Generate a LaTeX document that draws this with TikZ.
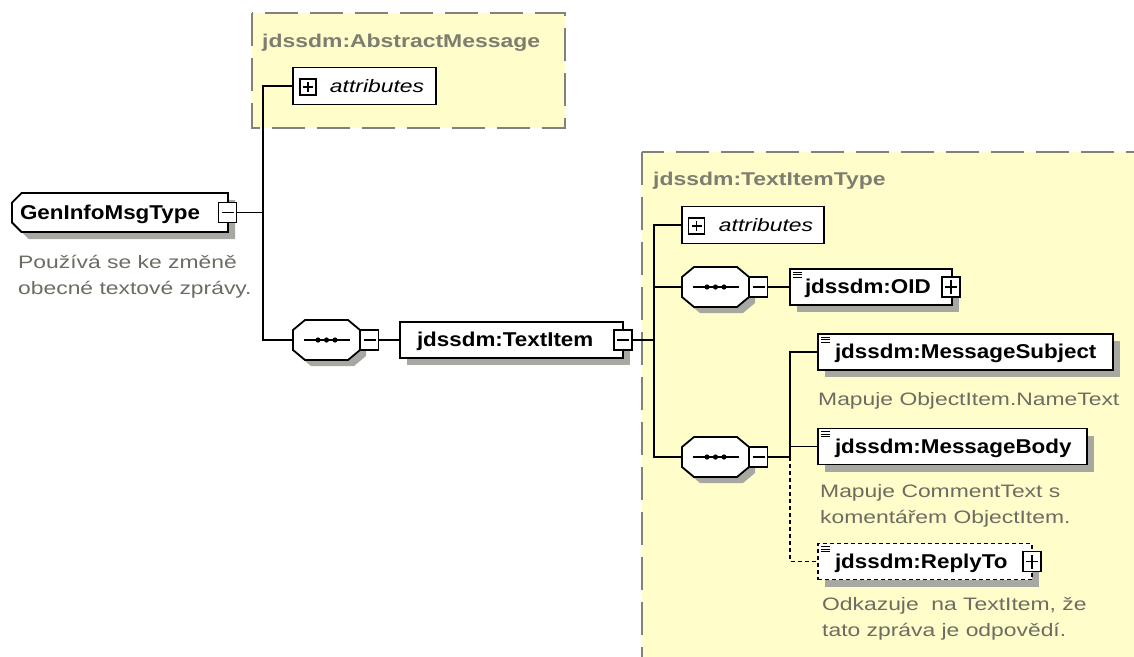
\documentclass[tikz,border=0pt]{standalone}
\usepackage{fontspec}
\setmainfont{Liberation Sans}
\newfontfamily\lblfam[FakeStretch=1.12]{Liberation Sans}
\newfontfamily\descfam[FakeStretch=1.27]{Liberation Sans}
\newfontfamily\titlefam[FakeStretch=1.24]{Liberation Sans}
\usetikzlibrary{shapes.misc,shadows}

\definecolor{paleyellow}{RGB}{255,253,202}
\definecolor{frameGray}{RGB}{130,130,125}
\definecolor{titleGray}{RGB}{125,125,112}
\definecolor{descGray}{RGB}{108,108,98}
\definecolor{shadowGray}{RGB}{168,168,162}

% two annotation lines, baseline of the node = baseline of the first line
\newcommand\twolines[2]{\vtop{\hbox{#1}\hbox{#2}}}

\tikzset{
  container/.style={fill=paleyellow, draw=frameGray, line width=2pt, dash pattern=on 33pt off 12pt},
  typetitle/.style={font=\titlefam\fontsize{18.5}{22}\selectfont\bfseries, text=titleGray,
    anchor=base west, inner sep=0pt},
  desc/.style={font=\descfam\fontsize{18}{26}\selectfont, text=descGray, anchor=base west, inner sep=0pt},
  elem/.style={draw=black, line width=1.8pt, fill=white,
    drop shadow={shadow xshift=7pt, shadow yshift=-7pt, fill=shadowGray, opacity=1},
    minimum height=36pt, inner ysep=0pt, inner xsep=#1, align=left,
    text height=13.5pt, text depth=0pt,
    font=\lblfam\fontsize{20}{23}\selectfont\bfseries},
  elem/.default=17pt,
  optional/.style={dash pattern=on 4pt off 3pt},
  attrbox/.style={draw=black, line width=1.8pt, fill=white, minimum height=37pt,
    inner xsep=12pt, inner ysep=0pt, align=right, text height=13pt, text depth=0pt,
    font=\descfam\fontsize{18}{22}\selectfont\itshape},
  pmbox/.style={draw=black, line width=1.5pt, fill=white, minimum width=18pt,
    minimum height=20pt, inner sep=0pt},
  minusbox/.style={pmbox, path picture={
    \draw[line width=1.6pt] ([xshift=3pt]path picture bounding box.west) --
      ([xshift=-3pt]path picture bounding box.east);}},
  plusbox/.style={pmbox, path picture={
    \draw[line width=1.6pt] ([xshift=3pt]path picture bounding box.west) --
      ([xshift=-3pt]path picture bounding box.east);
    \draw[line width=1.6pt] ([yshift=3pt]path picture bounding box.south) --
      ([yshift=-3pt]path picture bounding box.north);}},
  smallbox/.style={minimum width=16pt, minimum height=16pt},
  seqanchor/.style={minimum width=67pt, minimum height=40pt, inner sep=0pt, draw=none},
  seqoutline/.style={draw=black, line width=1.8pt, fill=white},
  conn/.style={line width=1.8pt, draw=black},
}

% sequence compositor: octagon with shadow, dotted bar and collapse box
\newcommand\seqgroup[3]{%
  \begin{scope}[shift={(#2,#3)}]
    \fill[shadowGray] (-15.5,-14) -- (27.5,-14) -- (39.5,-4) -- (39.5,16) -- (27.5,26)
      -- (-15.5,26) -- (-27.5,16) -- (-27.5,-4) -- cycle;
    \draw[seqoutline] (-21.5,-20) -- (21.5,-20) -- (33.5,-10) -- (33.5,10) -- (21.5,20)
      -- (-21.5,20) -- (-33.5,10) -- (-33.5,-10) -- cycle;
    \draw[line width=1.5pt] (-23,0) -- (23,0);
    \foreach \d in {-8.5,0,8.5} \fill (\d,0) circle (2.6pt);
    \node[seqanchor] (#1) at (0,0) {};
    \node[minusbox] (#1m) at (43,0) {};
  \end{scope}}

% element marker: three short bars in the upper left corner
\newcommand\elemicon[1]{%
  \foreach \dy in {4,6.5,9}
    \draw[line width=1pt] ([xshift=4pt,yshift=-\dy pt]#1.north west) -- ++(9pt,0pt);}

\begin{document}
\begin{tikzpicture}[x=1pt, y=-1pt]
  \useasboundingbox (0,0) rectangle (1134,656);
  \clip (0,0) rectangle (1134,656);
  \fill[white] (0,0) rectangle (1134,656);

  % base type containers
  \draw[container] (252,13) rectangle (565,128);
  \draw[container] (642,152) rectangle (1160,680);

  % root complex type
  \node[elem=2pt, text width=200pt, shape=chamfered rectangle,
        chamfered rectangle corners={north west,south west},
        chamfered rectangle xsep=6pt, minimum height=39pt] (gen) at (120,212.5) {GenInfoMsgType};
  \node[minusbox] (genm) at (227.5,212.5) {};
  \node[desc] (gendesc) at (18,268) {\twolines{Používá se ke změně}{obecné textové zprávy.}};

  % jdssdm:AbstractMessage
  \node[typetitle] (abstitle) at (262,47) {jdssdm:AbstractMessage};
  \node[attrbox, text width=119pt] (attr1) at (364.5,86) {attributes};
  \node[plusbox, smallbox] (attr1p) at (308,87) {};

  % sequence holding the text item
  \seqgroup{seqa}{326.5}{340}
  \node[elem, text width=189pt] (item) at (511.5,340) {jdssdm:TextItem};
  \node[minusbox] (itemm) at (623,340) {};

  % jdssdm:TextItemType
  \node[typetitle] (itemtitle) at (653,185) {jdssdm:TextItemType};
  \node[attrbox, inner xsep=11pt, text width=120pt] (attr2) at (753,225) {attributes};
  \node[plusbox, smallbox] (attr2p) at (696.5,226) {};

  \seqgroup{seqb}{715.5}{287}
  \node[elem=15pt, text width=132pt] (oid) at (871,287) {jdssdm:OID};
  \elemicon{oid}
  \node[plusbox] (oidp) at (951,287) {};

  \seqgroup{seqc}{715.5}{457}
  \node[elem, text width=261pt] (subj) at (965.5,352) {jdssdm:MessageSubject};
  \elemicon{subj}
  \node[desc] (subjdesc) at (818,405) {Mapuje ObjectItem.NameText};

  \node[elem, text width=235pt] (body) at (952.5,446.5) {jdssdm:MessageBody};
  \elemicon{body}
  \node[desc] (bodydesc) at (820,497) {\twolines{Mapuje CommentText s}{komentářem ObjectItem.}};

  \node[elem, optional, line width=1.5pt, text width=180pt] (reply) at (925,561.5) {jdssdm:ReplyTo};
  \elemicon{reply}
  \node[plusbox] (replyp) at (1032,561.5) {};
  \node[desc] (replydesc) at (822,610) {\twolines{Odkazuje\ \ na TextItem, že}{tato zpráva je odpovědí.}};

  % connectors
  \coordinate (ja) at (263,212.5);
  \coordinate (jb) at (654,340);
  \coordinate (jc) at (790,457);
  \draw[conn] (genm.east) -- (ja);
  \draw[conn] (attr1.west) -| (ja) |- (seqa.west);
  \draw[conn] (seqam.east) -- (item.west);
  \draw[conn] (itemm.east) -- (jb);
  \draw[conn] (attr2.west) -| (jb) |- (seqc.west);
  \draw[conn] (jb) |- (seqb.west);
  \draw[conn] (seqbm.east) -- (oid.west);
  \draw[conn] (seqcm.east) -- (jc);
  \draw[conn] (subj.west) -| (jc);
  \draw[conn] (body.west) -| (jc);
  \draw[conn, optional] (jc) |- (reply.west);
\end{tikzpicture}
\end{document}
